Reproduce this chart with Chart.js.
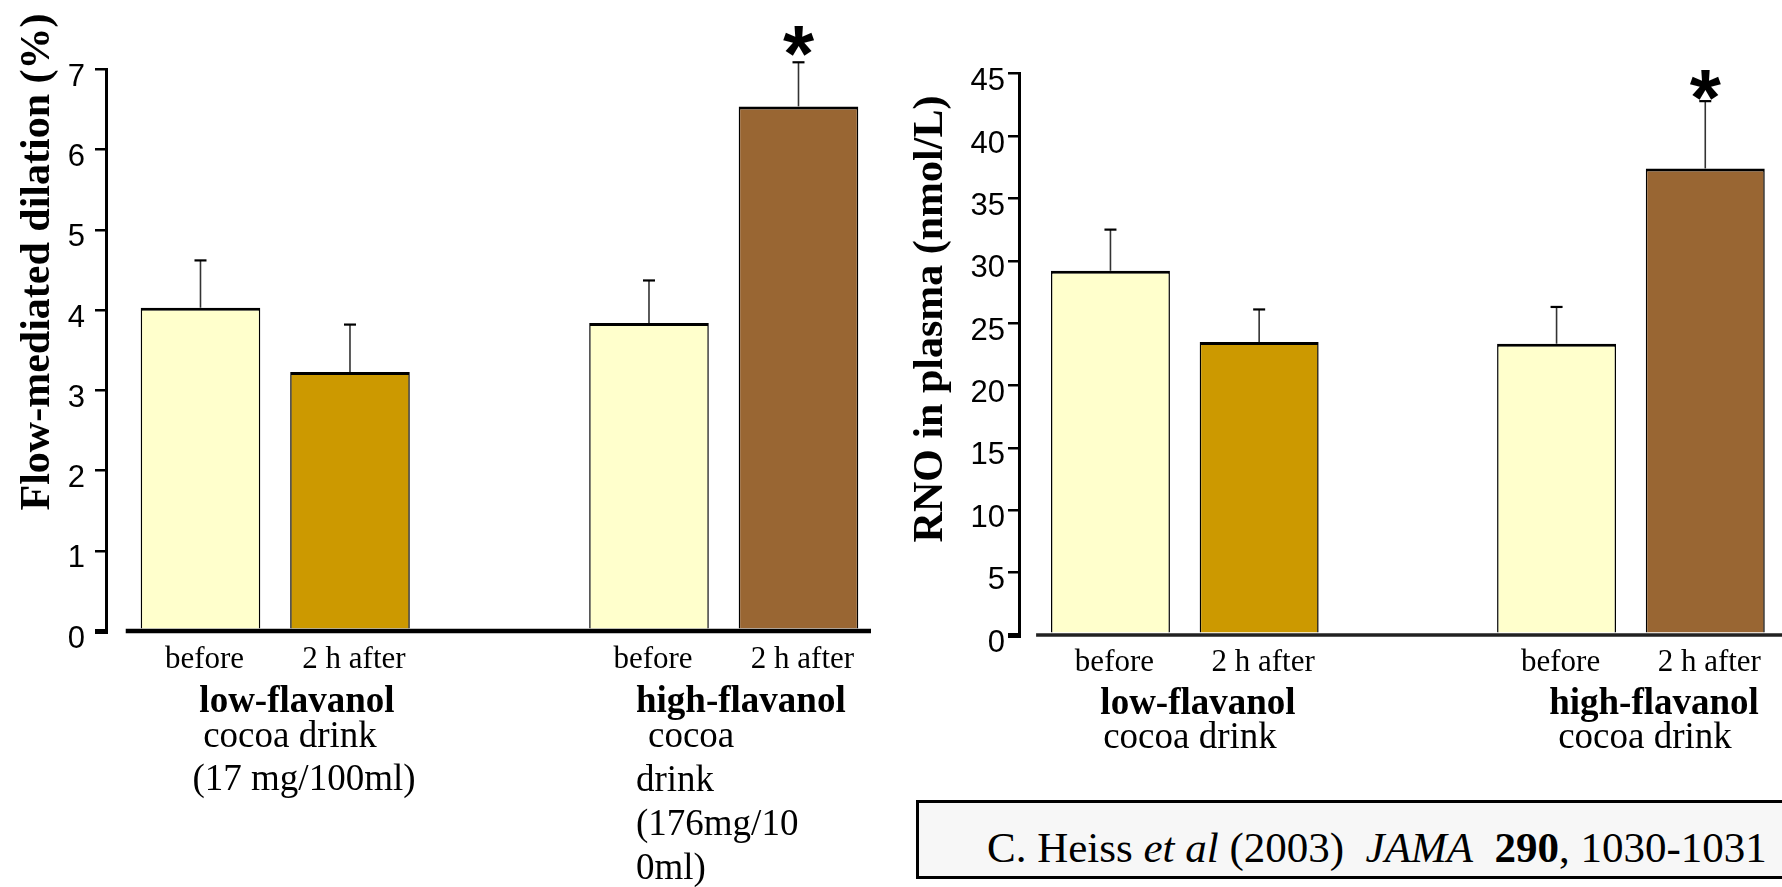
<!DOCTYPE html>
<html>
<head>
<meta charset="utf-8">
<script src="https://cdn.jsdelivr.net/npm/chart.js@4.4.1/dist/chart.umd.min.js"></script>
<style>
  html, body { margin: 0; padding: 0; background: #fff; }
  body { width: 1782px; height: 887px; position: relative; overflow: hidden; }
  canvas { position: absolute; top: 0; }
  #fmdChart { left: 0; }
  #rnoChart { left: 900px; }
  .cite {
    position: absolute; left: 916px; top: 800px; width: 880px; height: 79px;
    box-sizing: border-box; border: 3px solid #000; background: #f7f7f7;
    font-family: 'Liberation Serif', 'Times New Roman', serif; font-size: 43px;
    line-height: 43px; color: #000; white-space: pre;
  }
  .cite span { position: absolute; left: 68px; top: 23px; }
</style>
</head>
<body>
<canvas id="fmdChart" width="900" height="887"></canvas>
<canvas id="rnoChart" width="882" height="887"></canvas>
<div class="cite"><span>C. Heiss <i>et al</i> (2003)  <i>JAMA</i>  <b>290</b>, 1030-1031</span></div>

<script>
// bar slots (slot 2 is the gap between the two drinks)
const slots = [0, 1, 3, 4];
const phaseLabels = ['before', '2 h after', 'before', '2 h after'];
const barColors = ['#ffffcc', '#cc9900', '#ffffcc', '#996633'];
const significant = [false, false, false, true];

// flow-mediated dilation (%), mean and error
const fmdMean = [4.03, 3.23, 3.84, 6.54];
const fmdErr = [0.59, 0.59, 0.53, 0.55];
const fmdTicks = [0, 1, 2, 3, 4, 5, 6, 7];
const fmdTitle = 'Flow-mediated dilation (%)';
const fmdGroupLines = ['low-flavanol', 'cocoa drink', '(17 mg/100ml)',
                       'high-flavanol', 'cocoa', 'drink', '(176mg/10', '0ml)'];

// RNO in plasma (nmol/L), mean and error
const rnoMean = [29.2, 23.5, 23.35, 37.4];
const rnoErr = [3.3, 2.6, 2.95, 5.4];
const rnoTicks = [0, 5, 10, 15, 20, 25, 30, 35, 40, 45];
const rnoTitle = 'RNO in plasma (nmol/L)';
const rnoGroupLines = ['low-flavanol', 'cocoa drink', 'high-flavanol', 'cocoa drink'];

const SERIF = "'Liberation Serif', 'Times New Roman', serif";
const SANS = "'Liberation Sans', Arial, sans-serif";

const decor = {
  id: 'decor',
  afterDatasetsDraw(chart, args, o) {
    const ctx = chart.ctx;
    const xs = chart.scales.x, ys = chart.scales.y;
    const meta = chart.getDatasetMeta(0);
    ctx.save();
    ctx.fillStyle = '#000';
    o.mean.forEach((m, i) => {
      const bar = meta.data[i];
      const top = ys.getPixelForValue(m + o.err[i]);
      ctx.strokeStyle = '#333';
      ctx.lineWidth = 1.6;
      ctx.beginPath(); ctx.moveTo(bar.x, bar.y); ctx.lineTo(bar.x, top); ctx.stroke();
      ctx.strokeStyle = '#000';
      ctx.lineWidth = 2.2;
      ctx.beginPath(); ctx.moveTo(bar.x - 6, top); ctx.lineTo(bar.x + 6, top); ctx.stroke();
      if (significant[i]) {
        ctx.font = 'bold 80px ' + SANS;
        ctx.textAlign = 'center';
        ctx.textBaseline = 'alphabetic';
        const mt = ctx.measureText('*');
        const h = mt.actualBoundingBoxAscent + mt.actualBoundingBoxDescent;
        const cy = top - o.starGap;
        ctx.fillText('*', bar.x, cy + h / 2 - mt.actualBoundingBoxDescent);
      }
    });
    // thick baseline under the bars
    const y0 = ys.getPixelForValue(0);
    ctx.strokeStyle = o.baseColor;
    ctx.lineWidth = o.baseWidth;
    ctx.beginPath();
    ctx.moveTo(xs.getPixelForValue(-0.5), y0);
    ctx.lineTo(chart.chartArea.right, y0);
    ctx.stroke();
    ctx.restore();
  },
  afterDraw(chart, args, o) {
    const ctx = chart.ctx;
    ctx.save();
    ctx.fillStyle = '#000';
    ctx.textBaseline = 'alphabetic';
    // rotated axis title
    ctx.save();
    ctx.translate(o.titleX, o.titleY);
    ctx.rotate(-Math.PI / 2);
    ctx.font = 'bold 42px ' + SERIF;
    ctx.textAlign = 'center';
    ctx.fillText(o.title, 0, 0);
    ctx.restore();
    // drink captions under the phases
    o.lines.forEach((t, i) => {
      const [x, y, align, bold] = o.lineLayout[i];
      ctx.font = (bold ? 'bold ' : '') + '37px ' + SERIF;
      ctx.textAlign = align;
      ctx.fillText(t, x, y);
    });
    ctx.restore();
  }
};

function buildChart(id, c) {
  return new Chart(document.getElementById(id), {
    type: 'bar',
    data: {
      datasets: [{
        data: slots.map((s, i) => ({ x: s, y: c.mean[i] })),
        backgroundColor: barColors,
        borderColor: '#000',
        borderWidth: { top: 3, left: 1.5, right: 1.5, bottom: 0 },
        categoryPercentage: 1,
        barPercentage: 0.8
      }]
    },
    options: {
      responsive: false,
      animation: false,
      devicePixelRatio: 1,
      layout: { padding: { top: c.top, right: c.padRight, left: 0, bottom: 0 } },
      plugins: {
        legend: { display: false },
        tooltip: { enabled: false },
        decor: {
          mean: c.mean, err: c.err, starGap: c.starGap,
          baseWidth: c.baseWidth, baseColor: c.baseColor,
          title: c.title, titleX: c.titleX, titleY: c.titleY,
          lines: c.lines, lineLayout: c.lineLayout
        }
      },
      scales: {
        x: {
          type: 'linear',
          offset: false,
          min: c.xMin, max: c.xMax,
          grid: { display: false, drawTicks: false },
          border: { display: false },
          afterBuildTicks: s => { s.ticks = slots.map(v => ({ value: v })); },
          afterFit: s => { s.height = c.xHeight; s.paddingLeft = 0; s.paddingRight = 0; },
          ticks: {
            autoSkip: false, maxRotation: 0, minRotation: 0,
            padding: c.xPad, labelOffset: 4,
            color: '#000',
            font: { family: SERIF, size: 31 },
            callback: (v, i) => phaseLabels[i]
          }
        },
        y: {
          min: 0, max: c.ticks[c.ticks.length - 1],
          afterBuildTicks: s => { s.ticks = c.ticks.map(v => ({ value: v })); },
          afterFit: s => { s.width = c.axisX; s.paddingTop = 0; s.paddingBottom = 0; },
          grid: {
            drawOnChartArea: false, drawTicks: true, tickLength: 11,
            color: '#000',
            lineWidth: ctx => (ctx.tick && ctx.tick.value === 0 ? 5 : 2.5)
          },
          border: { display: true, color: '#000', width: 3 },
          ticks: {
            padding: c.yPad, labelOffset: 8, color: '#000',
            font: { family: SANS, size: 31 }
          }
        }
      }
    },
    plugins: [decor]
  });
}

buildChart('fmdChart', {
  mean: fmdMean, err: fmdErr, ticks: fmdTicks,
  top: 69.5, padRight: 29, axisX: 106, xHeight: 256,
  xMin: -0.632, xMax: 4.485, xPad: 10.6, yPad: 10,
  starGap: 21.5, baseWidth: 4.5, baseColor: '#000',
  title: fmdTitle, titleX: 49, titleY: 262,
  lines: fmdGroupLines,
  lineLayout: [
    [297, 712, 'center', true], [290, 747, 'center', false], [304, 790, 'center', false],
    [636, 712, 'left', true], [648, 747, 'left', false], [636, 791, 'left', false],
    [636, 835, 'left', false], [636, 879, 'left', false]
  ]
});

buildChart('rnoChart', {
  mean: rnoMean, err: rnoErr, ticks: rnoTicks,
  top: 73.7, padRight: 0, axisX: 119, xHeight: 252,
  xMin: -0.615, xMax: 4.516, xPad: 8.9, yPad: 3,
  starGap: 16, baseWidth: 3.5, baseColor: '#222',
  title: rnoTitle, titleX: 42, titleY: 319,
  lines: rnoGroupLines,
  lineLayout: [
    [298, 714, 'center', true], [290, 748, 'center', false],
    [754, 714, 'center', true], [745, 748, 'center', false]
  ]
});
</script>
</body>
</html>
